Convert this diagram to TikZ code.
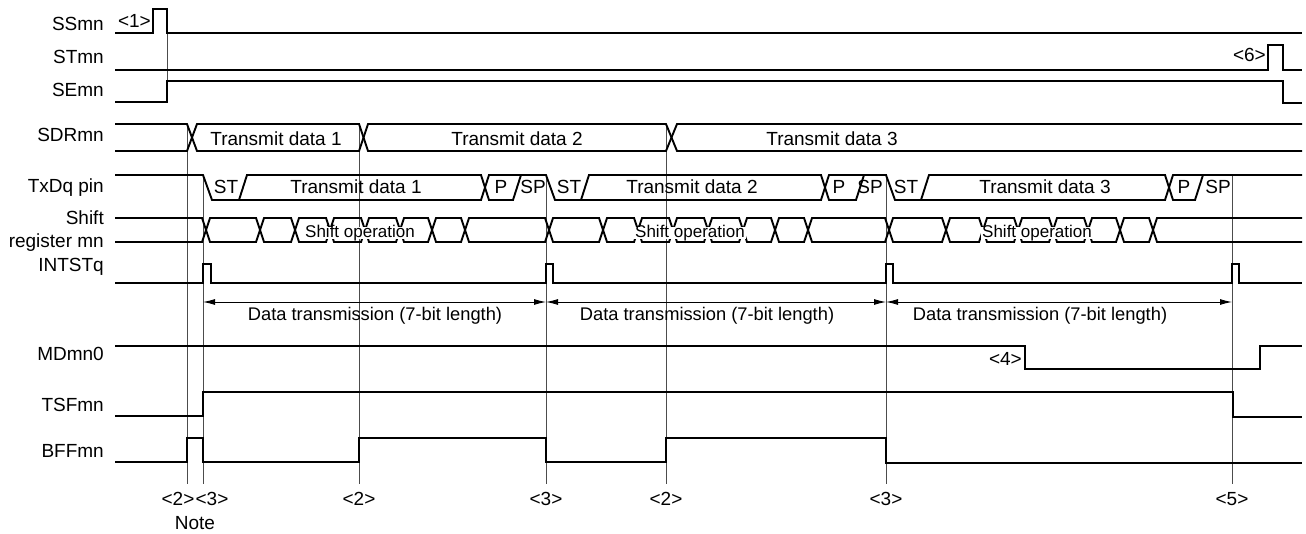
\documentclass[tikz,border=0pt]{standalone}
\usepackage{fontspec}
\setmainfont{Liberation Sans}
\usetikzlibrary{arrows.meta}
\newcommand{\mylabfont}{\fontsize{19}{22}\selectfont}
\newcommand{\myshfont}{\fontsize{17}{20}\selectfont}
\newcommand{\mydtfont}{\fontsize{18.3}{22}\selectfont}
\begin{document}
\begin{tikzpicture}[x=1pt,y=-1pt,
  sig/.style={line width=1.9pt, line join=miter},
  guide/.style={line width=0.9pt, draw=black!70},
  dimline/.style={line width=0.9pt, {Latex[length=12pt,width=6pt]}-{Latex[length=12pt,width=6pt]}},
  lbl/.style={font=\mylabfont, anchor=base east, inner sep=0pt},
  txt/.style={font=\mylabfont, anchor=base, inner sep=0pt},
  shtxt/.style={font=\myshfont, anchor=base, fill=white, inner xsep=1pt, inner ysep=0pt, text height=11pt, text depth=1.5pt},
  dttxt/.style={font=\mydtfont, anchor=base, inner sep=0pt}]
\fill[white] (0,0) rectangle (1306,534);
\useasboundingbox (0,0) rectangle (1306,534);

% guide lines
\draw[guide] (167,33) -- (167,81);
\draw[guide] (187,124) -- (187,484);
\draw[guide] (203,175) -- (203,484);
\draw[guide] (359,124) -- (359,484);
\draw[guide] (546,175) -- (546,484);
\draw[guide] (666,124) -- (666,484);
\draw[guide] (886,175) -- (886,484);
\draw[guide] (1232,175) -- (1232,484);

% labels
\node[lbl] (lSS) at (104,31) {SSmn};
\node[lbl] (lST) at (104,64) {STmn};
\node[lbl] (lSE) at (104,97) {SEmn};
\node[lbl] (lSDR) at (104,142) {SDRmn};
\node[lbl] (lTx) at (104,193) {TxDq pin};
\node[lbl] (lSh1) at (104,225) {Shift};
\node[lbl] (lSh2) at (104,248) {register mn};
\node[lbl] (lINT) at (104,272) {INTSTq};
\node[lbl] (lMD) at (104,360) {MDmn0};
\node[lbl] (lTSF) at (104,411) {TSFmn};
\node[lbl] (lBFF) at (104,457) {BFFmn};

% SSmn, STmn, SEmn
\draw[sig] (115,33) -- (153,33) -- (153,9) -- (167,9) -- (167,33) -- (1302,33);
\draw[sig] (115,70) -- (1268,70) -- (1268,45) -- (1283,45) -- (1283,70) -- (1302,70);
\draw[sig] (115,102) -- (167,102) -- (167,81) -- (1283,81) -- (1283,103) -- (1302,103);
\node[lbl] (m1) at (151,28) {<1>};
\node[lbl] (m6) at (1266,62) {<6>};

% SDRmn
\draw[sig] (115,124) -- (187,124) -- (197,151) -- (359,151) -- (368,124) -- (666,124) -- (677,151) -- (1302,151);
\draw[sig] (115,151) -- (187,151) -- (197,124) -- (359,124) -- (368,151) -- (666,151) -- (677,124) -- (1302,124);
\node[txt] (sd1) at (276,146) {Transmit data 1};
\node[txt] (sd2) at (517,146) {Transmit data 2};
\node[txt] (sd3) at (832,146) {Transmit data 3};

% TxDq pin
\draw[sig] (115,175) -- (203,175) -- (212,200) -- (239,200) -- (247,175) -- (481,175) -- (489,200) -- (513,200) -- (521,175) -- (546,175)
  -- (555,200) -- (581,200) -- (589,175) -- (821,175) -- (829,200) -- (856,200) -- (864,175) -- (886,175)
  -- (895,200) -- (921,200) -- (929,175) -- (1165,175) -- (1173,200) -- (1195,200) -- (1203,175) -- (1302,175);
\draw[sig] (239,200) -- (481,200) -- (489,175) -- (521,175);
\draw[sig] (581,200) -- (821,200) -- (829,175) -- (864,175);
\draw[sig] (921,200) -- (1165,200) -- (1173,175) -- (1203,175);
\node[txt] (st1) at (226,194) {ST};
\node[txt] (st2) at (569,194) {ST};
\node[txt] (st3) at (906,194) {ST};
\node[txt] (td1) at (356,194) {Transmit data 1};
\node[txt] (td2) at (692,194) {Transmit data 2};
\node[txt] (td3) at (1045,194) {Transmit data 3};
\node[txt] (p1) at (501,194) {P};
\node[txt] (p2) at (839,194) {P};
\node[txt] (p3) at (1184,194) {P};
\node[txt] (sp1) at (533,194) {SP};
\node[txt] (sp2) at (870,194) {SP};
\node[txt] (sp3) at (1218,194) {SP};

% Shift register
\draw[sig] (115,218) \foreach \c/\ya/\yb in {206/218/242,260/242/218,295/218/242,330/242/218,365/218/242,400/242/218,432/218/242,465/242/218,549/218/242,603/242/218,638/218/242,673/242/218,708/218/242,743/242/218,775/218/242,808/242/218,889/218/242,946/242/218,983/218/242,1018/242/218,1053/218/242,1088/242/218,1120/218/242,1153/242/218} { -- (\c-4,\ya) -- (\c+4,\yb) } -- (1302,218);
\draw[sig] (115,242) \foreach \c/\ya/\yb in {206/218/242,260/242/218,295/218/242,330/242/218,365/218/242,400/242/218,432/218/242,465/242/218,549/218/242,603/242/218,638/218/242,673/242/218,708/218/242,743/242/218,775/218/242,808/242/218,889/218/242,946/242/218,983/218/242,1018/242/218,1053/218/242,1088/242/218,1120/218/242,1153/242/218} { -- (\c-4,460-\ya) -- (\c+4,460-\yb) } -- (1302,242);
\node[shtxt] (so1) at (360,238) {Shift operation};
\node[shtxt] (so2) at (690,238) {Shift operation};
\node[shtxt] (so3) at (1037,238) {Shift operation};

% INTSTq
\draw[sig] (115,283) -- (203,283) -- (203,264) -- (211,264) -- (211,283) -- (546,283) -- (546,264) -- (553,264) -- (553,283)
  -- (886,283) -- (886,264) -- (893,264) -- (893,283) -- (1232,283) -- (1232,264) -- (1239,264) -- (1239,283) -- (1302,283);

% data transmission dimensions
\coordinate (d0) at (203,302);
\coordinate (d1) at (546,302);
\coordinate (d2) at (886,302);
\coordinate (d3) at (1232,302);
\draw[dimline] (d0) -- (d1);
\draw[dimline] (d1) -- (d2);
\draw[dimline] (d2) -- (d3);
\node[dttxt] (dt1) at (375,321) {Data transmission (7-bit length)};
\node[dttxt] (dt2) at (707,321) {Data transmission (7-bit length)};
\node[dttxt] (dt3) at (1040,321) {Data transmission (7-bit length)};

% MDmn0, TSFmn, BFFmn
\draw[sig] (115,346) -- (1025,346) -- (1025,369) -- (1260,369) -- (1260,346) -- (1302,346);
\node[lbl] (m4) at (1022,366) {<4>};
\draw[sig] (115,416) -- (203,416) -- (203,392) -- (1233,392) -- (1233,417) -- (1302,417);
\draw[sig] (115,462) -- (187,462) -- (187,438) -- (203,438) -- (203,462) -- (359,462) -- (359,438) -- (546,438) -- (546,462)
  -- (666,462) -- (666,438) -- (886,438) -- (886,463) -- (1302,463);

% bottom marks
\node[txt] (b2a) at (178,505) {<2>};
\node[txt] (b3a) at (212,505) {<3>};
\node[txt] (note) at (195,529) {Note};
\node[txt] (b2b) at (359,505) {<2>};
\node[txt] (b3b) at (546,505) {<3>};
\node[txt] (b2c) at (666,505) {<2>};
\node[txt] (b3c) at (886,505) {<3>};
\node[txt] (b5) at (1232,505) {<5>};
\end{tikzpicture}
\end{document}
